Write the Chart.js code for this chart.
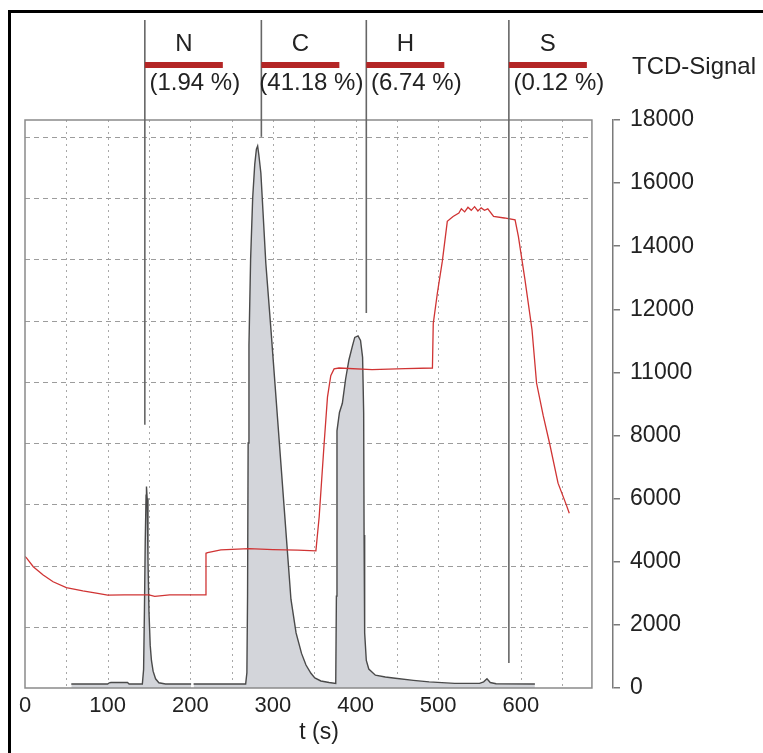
<!DOCTYPE html>
<html><head><meta charset="utf-8">
<script src="https://cdn.jsdelivr.net/npm/chart.js@4.4.0/dist/chart.umd.min.js"></script>
<style>
html,body{margin:0;padding:0;background:#fff;overflow:hidden}
#wrap{position:relative;width:763px;height:753px;overflow:hidden}
#frame{position:absolute;left:8px;top:10px;width:800px;height:800px;border-left:3px solid #000;border-top:3px solid #000;pointer-events:none}
canvas{position:absolute;left:0;top:0}
</style></head><body>
<div id="wrap"><canvas id="c" width="763" height="753"></canvas><div id="frame"></div></div>
<script>
// ---- data ----
const xTickLabels = ['0','100','200','300','400','500','600'];
const yTickLabels = ['0','2000','4000','6000','8000','11000','12000','14000','16000','18000'];

const tcdTime = [56,100,102,104,124,126,142,143.5,144.5,145.5,146.5,147,147.8,148.8,150,151.5,153,155,158,162,170,201,202,204,
  267,268.5,269.3,270,271,273,275.5,278,280,281.5,283,285.4,288.5,291.4,297.5,305.6,313.7,321.8,328,334.6,340,346,350.7,358,368,376,
  376.8,377.5,380.5,384,388,392,396,399,403,406,408.5,409.8,410.3,411,413,416,424,436,448,470,489,520,550,555,559,563,570,617];
const tcdSignal = [130,130,170,180,180,130,130,600,2500,4800,6300,6580,6200,4200,2500,1400,900,550,300,170,130,130,null,130,
  130,500,3000,8000,11200,14000,16000,17100,17600,17700,17400,16820,15300,13870,11745,8800,5850,2900,1800,1130,750,480,330,230,180,150,
  3000,8400,9000,9300,10100,10720,11150,11450,11500,11350,10800,9000,5000,1800,900,620,420,360,320,250,200,150,150,200,300,180,140,130];

const redTime = [0,2,10,22,34,50,70,88,100,120,150,157,175,200,218,219,221,237,271,300,330,352,356,362,366,370,374,380,420,460,493,494,
  499,505,511,518,525,528,532,536,540,544,548,552,556,560,567,580,593,597,605,613.5,619,627,635,645,655,658.6];
const redValue = [4300,4240,3960,3690,3470,3280,3170,3090,3030,3040,3040,2990,3040,3040,3040,4400,4420,4510,4550,4520,4500,4480,5600,8000,9500,10200,10420,10450,10400,10430,10450,11900,
  12900,13940,15240,15400,15510,15650,15550,15700,15600,15720,15580,15680,15600,15650,15400,15350,15290,14750,13330,11700,9960,8900,7960,6690,5980,5710];

const elements = ['N','C','H','S'];
const percents = ['(1.94 %)','(41.18 %)','(6.74 %)','(0.12 %)'];
const markerTime = [145,286,413,585.5];
const markerEnd = [8600,18000,12250,820];

const frameEnd = 686;   // right edge of plot frame (s)
const axisEnd = 711.5;  // position of detached right axis (s)

// ---- build ----
const tcdPts = tcdTime.map((t,i)=>({x:t,y:tcdSignal[i]}));
const redPts = redTime.map((t,i)=>({x:t,y:redValue[i]}));
const FONT = 'Liberation Sans, Arial, sans-serif';

const deco = {
  id:'deco',
  beforeDatasetsDraw(chart){
    const {ctx, chartArea:a, scales:{x,y}} = chart;
    const xr = x.getPixelForValue(frameEnd);
    ctx.save();
    ctx.lineWidth = 1;
    ctx.strokeStyle = '#a8a8a8';
    ctx.setLineDash([2,4]);
    for (let v=50; v<frameEnd; v+=50){
      const px = Math.round(x.getPixelForValue(v))+0.5;
      ctx.beginPath(); ctx.moveTo(px,a.top); ctx.lineTo(px,a.bottom); ctx.stroke();
    }
    ctx.setLineDash([5,4]);
    ctx.strokeStyle = '#9c9c9c';
    for (let v=2000; v<=18000; v+=2000){
      const py = Math.round(y.getPixelForValue(v))+0.5;
      ctx.beginPath(); ctx.moveTo(a.left,py); ctx.lineTo(xr,py); ctx.stroke();
    }
    ctx.restore();
  },
  afterDatasetsDraw(chart){
    const {ctx, chartArea:a, scales:{x,y}} = chart;
    const xr = x.getPixelForValue(frameEnd);
    ctx.save();
    ctx.strokeStyle = '#8a8a8a'; ctx.lineWidth = 1.5;
    ctx.strokeRect(a.left, a.top, xr-a.left, a.bottom-a.top);
    for (let i=0;i<markerTime.length;i++){
      const px = x.getPixelForValue(markerTime[i]);
      ctx.strokeStyle = '#666'; ctx.lineWidth = 1.6;
      ctx.beginPath(); ctx.moveTo(px, a.top-100); ctx.lineTo(px, y.getPixelForValue(markerEnd[i])); ctx.stroke();
      ctx.fillStyle = '#b42626';
      ctx.fillRect(px, a.top-58, 78, 6);
      ctx.fillStyle = '#222';
      ctx.textAlign = 'center'; ctx.textBaseline = 'middle';
      ctx.font = '24px ' + FONT;
      ctx.fillText(elements[i], px+39, a.top-76);
      ctx.fillText(percents[i], px+50, a.top-37);
    }
    ctx.textAlign = 'left';
    ctx.fillText('TCD-Signal', a.right+19, a.top-53);
    ctx.restore();
  }
};

new Chart(document.getElementById('c'), {
  type:'line',
  data:{datasets:[
    {label:'red', data:redPts, borderColor:'#d03434', borderWidth:1.3, pointRadius:0, fill:false, tension:0},
    {label:'TCD', data:tcdPts, borderColor:'#4a4a4a', borderWidth:1.4, backgroundColor:'#d3d5da', fill:'origin', pointRadius:0, tension:0, spanGaps:false}
  ]},
  options:{
    responsive:false, animation:false,
    layout:{padding:{left:25, top:120, right:0, bottom:0}},
    plugins:{legend:{display:false}, tooltip:{enabled:false}},
    scales:{
      x:{type:'linear', min:0, max:axisEnd, position:'bottom',
        grid:{display:false}, border:{display:false},
        ticks:{stepSize:50, autoSkip:false, maxRotation:0, includeBounds:false, padding:-3,
          font:{family:FONT, size:22}, color:'#222',
          callback:(v)=> (v%100===0 && xTickLabels[v/100]!==undefined) ? xTickLabels[v/100] : ''},
        title:{display:true, text:'t (s)', font:{family:FONT, size:23}, color:'#222', padding:{top:0,bottom:7}},
        afterFit:(s)=>{s.height=65;}
      },
      y:{type:'linear', position:'right', min:0, max:18550,
        grid:{drawOnChartArea:false, drawTicks:true, tickLength:7, color:'#7a7a7a', lineWidth:1.5},
        border:{display:true, color:'#7a7a7a', width:1.5},
        ticks:{stepSize:2000, includeBounds:false, padding:10, font:{family:FONT, size:23}, color:'#222',
          callback:(v)=> yTickLabels[Math.round(v/2000)] ?? ''},
        afterFit:(s)=>{s.width=150;}
      }
    }
  },
  plugins:[deco]
});
</script>
</body></html>
